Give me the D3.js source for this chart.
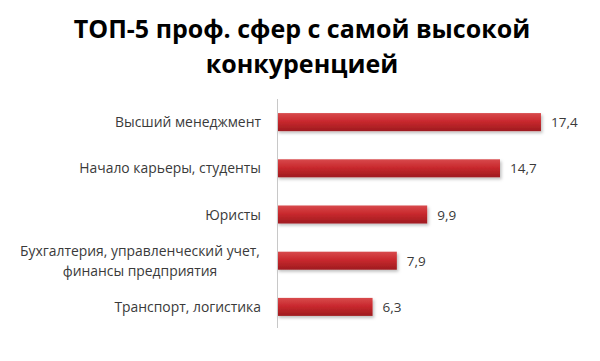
<!DOCTYPE html>
<html>
<head>
<meta charset="utf-8">
<script src="https://cdn.jsdelivr.net/npm/d3@7"></script>
<style>
	body{margin:0;background:#fff;}
	svg{display:block;}
</style>
</head>
<body>
<svg id="chart" width="600" height="361"></svg>
<script>
var categories = [
	['Высший менеджмент'],
	['Начало карьеры, студенты'],
	['Юристы'],
	['Бухгалтерия, управленческий учет,', 'финансы предприятия'],
	['Транспорт, логистика']
];
var values = [17.4, 14.7, 9.9, 7.9, 6.3];
var valueLabels = ['17,4', '14,7', '9,9', '7,9', '6,3'];
var titleLines = ['ТОП-5 проф. сфер с самой высокой', 'конкуренцией'];

var svg = d3.select('#chart');
var font = '"Open Sans", "DejaVu Sans", sans-serif';

var x = d3.scaleLinear().domain([0, 20]).range([277, 580.4]);
var y = d3.scaleBand()
	.domain(d3.range(values.length))
	.range([99, 330])
	.paddingInner(0.61)
	.paddingOuter(0.305);

// bar gradient
var defs = svg.append('defs');
var grad = defs.append('linearGradient')
	.attr('id', 'barGrad')
	.attr('x1', 0).attr('y1', 0).attr('x2', 0).attr('y2', 1);
grad.append('stop').attr('offset', '0%').attr('stop-color', '#d84a4c');
grad.append('stop').attr('offset', '45%').attr('stop-color', '#c9292e');
grad.append('stop').attr('offset', '100%').attr('stop-color', '#9e1b1f');
var flt = defs.append('filter').attr('id', 'shadow')
	.attr('x', '-5%').attr('y', '-30%').attr('width', '115%').attr('height', '180%');
flt.append('feDropShadow')
	.attr('dx', 1.5).attr('dy', 2).attr('stdDeviation', 1.5)
	.attr('flood-color', '#000').attr('flood-opacity', 0.25);

// title
svg.append('g').selectAll('text')
	.data(titleLines)
	.enter().append('text')
	.attr('x', 302)
	.attr('y', function(d, i){ return 38 + i * 35; })
	.attr('text-anchor', 'middle')
	.attr('font-family', font)
	.attr('font-weight', 'bold')
	.attr('font-size', 25)
	.attr('fill', '#000')
	.text(function(d){ return d; });

// bars
svg.append('g').selectAll('rect')
	.data(values)
	.enter().append('rect')
	.attr('x', x(0))
	.attr('y', function(d, i){ return y(i); })
	.attr('width', function(d){ return x(d) - x(0); })
	.attr('height', y.bandwidth())
	.attr('fill', 'url(#barGrad)')
	.attr('filter', 'url(#shadow)');

// axis line
var yAxis = d3.axisLeft(y).tickSize(0).tickFormat('');
svg.append('g')
	.attr('transform', 'translate(' + x(0) + ',0)')
	.call(yAxis)
	.call(function(g){ g.select('.domain').attr('stroke', '#c8c8c8').attr('d', 'M0.5,99V328'); });

// category labels
var cat = svg.append('g').selectAll('text')
	.data(categories)
	.enter().append('text')
	.attr('text-anchor', function(d){ return d.length > 1 ? 'middle' : 'end'; })
	.attr('font-family', font)
	.attr('font-size', 13.9)
	.attr('fill', '#3a3a3a');
cat.each(function(d, i){
	var t = d3.select(this);
	var cy = y(i) + y.bandwidth() / 2;
	var n = d.length;
	t.selectAll('tspan')
		.data(d)
		.enter().append('tspan')
		.attr('x', n > 1 ? 140 : 261)
		.attr('y', function(s, j){ return cy + 5 + (j - (n - 1) / 2) * 20; })
		.text(function(s){ return s; });
});

// value labels
svg.append('g').selectAll('text')
	.data(values)
	.enter().append('text')
	.attr('x', function(d){ return x(d) + 10; })
	.attr('y', function(d, i){ return y(i) + y.bandwidth() / 2 + 5; })
	.attr('font-family', font)
	.attr('font-size', 13.5)
	.attr('fill', '#3a3a3a')
	.text(function(d, i){ return valueLabels[i]; });
</script>
</body>
</html>
